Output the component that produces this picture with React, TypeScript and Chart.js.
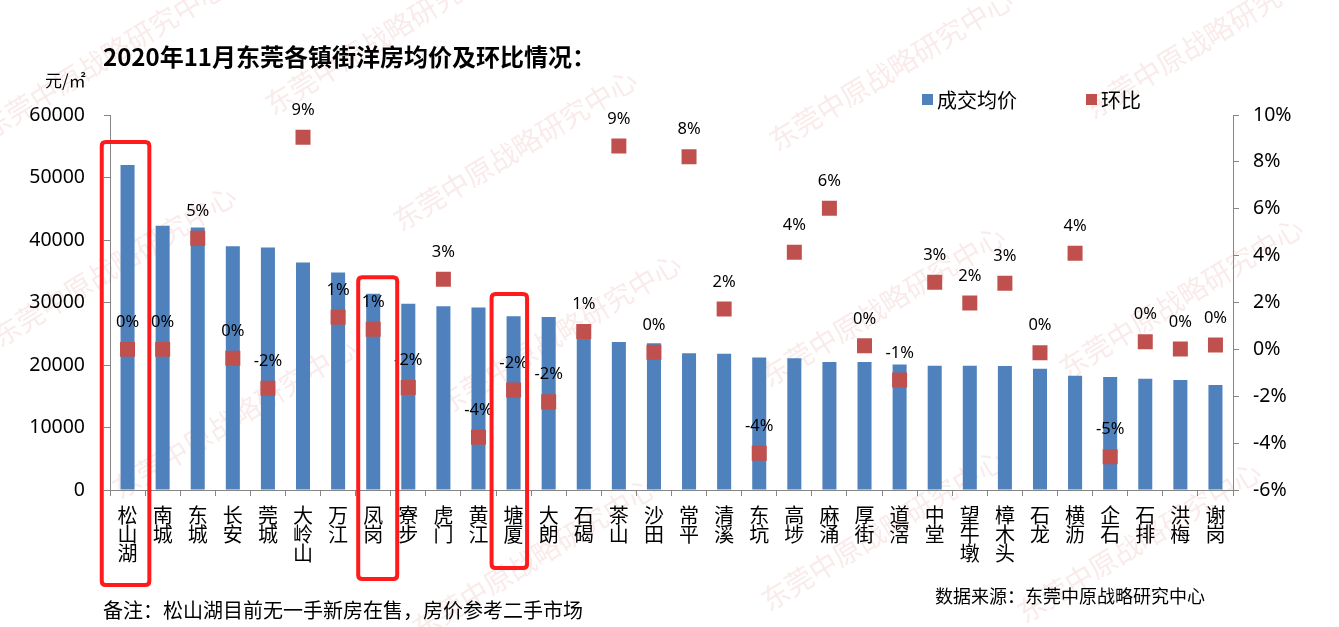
import React, { useEffect, useRef } from 'react';
import { Chart, registerables } from 'chart.js';

Chart.register(...registerables);

// ---------- data ----------
const categories = ['松山湖', '南城', '东城', '长安', '莞城', '大岭山', '万江', '凤岗', '寮步', '虎门', '黄江', '塘厦', '大朗', '石碣', '茶山', '沙田', '常平', '清溪', '东坑', '高埗', '麻涌', '厚街', '道滘', '中堂', '望牛墩', '樟木头', '石龙', '横沥', '企石', '石排', '洪梅', '谢岗'];
const avgPrice = [52000, 42300, 42000, 39000, 38800, 36400, 34800, 31400, 29800, 29400, 29200, 27800, 27700, 25800, 23700, 23500, 21900, 21800, 21200, 21100, 20500, 20500, 20100, 19900, 19900, 19850, 19400, 18300, 18100, 17800, 17600, 16800];
const momChange = [0.0, 0.0, 4.74, -0.38, -1.66, 9.05, 1.37, 0.86, -1.63, 2.99, -3.75, -1.73, -2.23, 0.76, 8.68, -0.12, 8.22, 1.72, -4.43, 4.14, 6.02, 0.15, -1.31, 2.86, 1.98, 2.82, -0.14, 4.1, -4.58, 0.33, 0.02, 0.19];
const priceTicks = { min: 0, max: 60000, step: 10000 };
const pctTicks = { min: -6, max: 10, step: 2 };
const highlighted = ['松山湖', '凤岗', '塘厦'];

const TITLE = '2020年11月东莞各镇街洋房均价及环比情况：';
const UNIT = '元/㎡';
const NOTE = '备注：松山湖目前无一手新房在售，房价参考二手市场';
const SOURCE = '数据来源：东莞中原战略研究中心';
const WATERMARK = '东莞中原战略研究中心';

// ---------- styles ----------
const FONT_CJK = '"Noto Sans CJK SC", "Noto Sans", sans-serif';
const FONT_LATIN = '"Noto Sans", "DejaVu Sans", sans-serif';
const BLUE = '#4F81BD';
const RED = '#C0504D';
const AXIS = '#868686';

// highlight box geometry (pixel offsets around category centre / chart bottom)
const highlightBoxes: Record<string, { l: number; r: number; t: number; b: number }> = {
  '松山湖': { l: -25.8, r: 21.8, t: -348, b: 95 },
  '凤岗': { l: -15, r: 24, t: -212.7, b: 89 },
  '塘厦': { l: -22, r: 13.5, t: -196, b: 78 },
};

const watermarkSpots: [number, number][] = [
  [-10, 140], [273, 116], [401, 232], [777, 152], [1093, 120],
  [0, 348], [445, 416], [769, 388], [1067, 380],
  [120, 500], [420, 640], [769, 612], [1025, 624],
];

const canvasPlugin = {
  id: 'custom',
  beforeDraw(chart: any) {
    const { ctx, width, height } = chart;
    ctx.save();
    ctx.fillStyle = '#ffffff';
    ctx.fillRect(0, 0, width, height);
    ctx.font = `28px ${FONT_CJK}`;
    ctx.fillStyle = 'rgba(225,130,130,0.16)';
    ctx.textBaseline = 'alphabetic';
    for (const [x, y] of watermarkSpots) {
      ctx.save();
      ctx.translate(x, y);
      ctx.rotate((-31.5 * Math.PI) / 180);
      ctx.fillText(WATERMARK, 0, 0);
      ctx.restore();
    }
    ctx.restore();
  },
  afterDatasetsDraw(chart: any) {
    const { ctx } = chart;
    const meta = chart.getDatasetMeta(1);
    ctx.save();
    ctx.font = `16.5px ${FONT_LATIN}`;
    ctx.fillStyle = '#000';
    ctx.textAlign = 'center';
    ctx.textBaseline = 'middle';
    meta.data.forEach((pt: any, i: number) => {
      const r = Math.round(momChange[i]);
      const txt = (r === 0 ? 0 : r) + '%';
      ctx.fillText(txt, pt.x, pt.y - 27);
    });
    ctx.restore();
  },
  afterDraw(chart: any) {
    const { ctx, chartArea } = chart;
    const xs = chart.scales.x;
    ctx.save();
    ctx.strokeStyle = '#FF1B1B';
    ctx.lineWidth = 4;
    for (const name of highlighted) {
      const idx = categories.indexOf(name);
      const cx = xs.getPixelForTick(idx);
      const g = highlightBoxes[name];
      const x0 = cx + g.l, x1 = cx + g.r;
      const y0 = chartArea.bottom + g.t, y1 = chartArea.bottom + g.b;
      const rad = 4;
      ctx.beginPath();
      ctx.moveTo(x0 + rad, y0);
      ctx.lineTo(x1 - rad, y0);
      ctx.quadraticCurveTo(x1, y0, x1, y0 + rad);
      ctx.lineTo(x1, y1 - rad);
      ctx.quadraticCurveTo(x1, y1, x1 - rad, y1);
      ctx.lineTo(x0 + rad, y1);
      ctx.quadraticCurveTo(x0, y1, x0, y1 - rad);
      ctx.lineTo(x0, y0 + rad);
      ctx.quadraticCurveTo(x0, y0, x0 + rad, y0);
      ctx.closePath();
      ctx.stroke();
    }
    ctx.restore();
  },
};

export default function App() {
  const ref = useRef<HTMLCanvasElement>(null);

  useEffect(() => {
    if (!ref.current) return;
    const chart = new Chart(ref.current, {
      type: 'bar',
      data: {
        labels: categories.map((c) => c.split('')),
        datasets: [
          {
            type: 'bar',
            label: '成交均价',
            data: avgPrice,
            backgroundColor: BLUE,
            yAxisID: 'y',
            barPercentage: 0.4,
            categoryPercentage: 1,
            order: 2,
          } as any,
          {
            type: 'line',
            label: '环比',
            data: momChange,
            yAxisID: 'y2',
            showLine: false,
            pointStyle: 'rect',
            pointRadius: 10.6,
            pointHoverRadius: 10.6,
            pointBackgroundColor: RED,
            pointBorderWidth: 0,
            pointBorderColor: RED,
            backgroundColor: RED,
            borderColor: RED,
            order: 1,
          } as any,
        ],
      },
      options: {
        animation: false,
        responsive: true,
        maintainAspectRatio: false,
        layout: { padding: { top: 115, left: 0, right: 0, bottom: 0 } },
        plugins: {
          legend: { display: false },
          title: { display: false },
          tooltip: { enabled: false },
        },
        scales: {
          x: {
            offset: true,
            grid: {
              display: true,
              offset: true,
              drawOnChartArea: false,
              drawTicks: true,
              tickLength: 6,
              color: AXIS,
            },
            border: { display: true, color: AXIS, width: 1 },
            ticks: {
              color: '#000',
              font: { family: FONT_CJK, size: 20, lineHeight: 0.95 },
              padding: 10,
              maxRotation: 0,
              minRotation: 0,
              autoSkip: false,
            },
            afterFit: (s: any) => {
              s.height = 137;
            },
          },
          y: {
            position: 'left',
            min: priceTicks.min,
            max: priceTicks.max,
            ticks: {
              stepSize: priceTicks.step,
              callback: (v: any) => String(v),
              color: '#000',
              font: { family: FONT_LATIN, size: 19.5 },
              padding: 19,
            },
            grid: { drawOnChartArea: false, drawTicks: true, tickLength: 6, color: AXIS },
            border: { display: true, color: AXIS, width: 1 },
            afterFit: (s: any) => {
              s.width = 110;
            },
          },
          y2: {
            position: 'right',
            min: pctTicks.min,
            max: pctTicks.max,
            ticks: {
              stepSize: pctTicks.step,
              callback: (v: any) => v + '%',
              color: '#000',
              font: { family: FONT_LATIN, size: 19.5 },
              padding: 14,
            },
            grid: { drawOnChartArea: false, drawTicks: true, tickLength: 6, color: AXIS },
            border: { display: true, color: AXIS, width: 1 },
            afterFit: (s: any) => {
              s.width = 106;
            },
          },
        },
      } as any,
      plugins: [canvasPlugin],
    });
    return () => chart.destroy();
  }, []);

  const abs = (extra: React.CSSProperties): React.CSSProperties => ({
    position: 'absolute',
    whiteSpace: 'nowrap',
    lineHeight: 1,
    color: '#000',
    fontFamily: FONT_CJK,
    ...extra,
  });

  return (
    <div
      style={{
        position: 'fixed',
        left: 0,
        top: 0,
        width: 1339,
        height: 627,
        background: '#fff',
        overflow: 'hidden',
      }}
    >
      <canvas ref={ref} style={{ position: 'absolute', left: 0, top: 0 }} />
      <div style={abs({ left: 103, top: 44, fontSize: 24, fontWeight: 700 })}>{TITLE}</div>
      <div style={abs({ left: 45, top: 71, fontSize: 17 })}>{UNIT}</div>
      <div style={abs({ left: 922, top: 94, width: 11, height: 11, background: BLUE })} />
      <div style={abs({ left: 937, top: 90, fontSize: 20 })}>成交均价</div>
      <div style={abs({ left: 1086, top: 94, width: 11, height: 11, background: RED })} />
      <div style={abs({ left: 1101, top: 90, fontSize: 20 })}>环比</div>
      <div style={abs({ left: 103, top: 600, fontSize: 20 })}>{NOTE}</div>
      <div style={abs({ left: 935, top: 586, fontSize: 18 })}>{SOURCE}</div>
    </div>
  );
}
